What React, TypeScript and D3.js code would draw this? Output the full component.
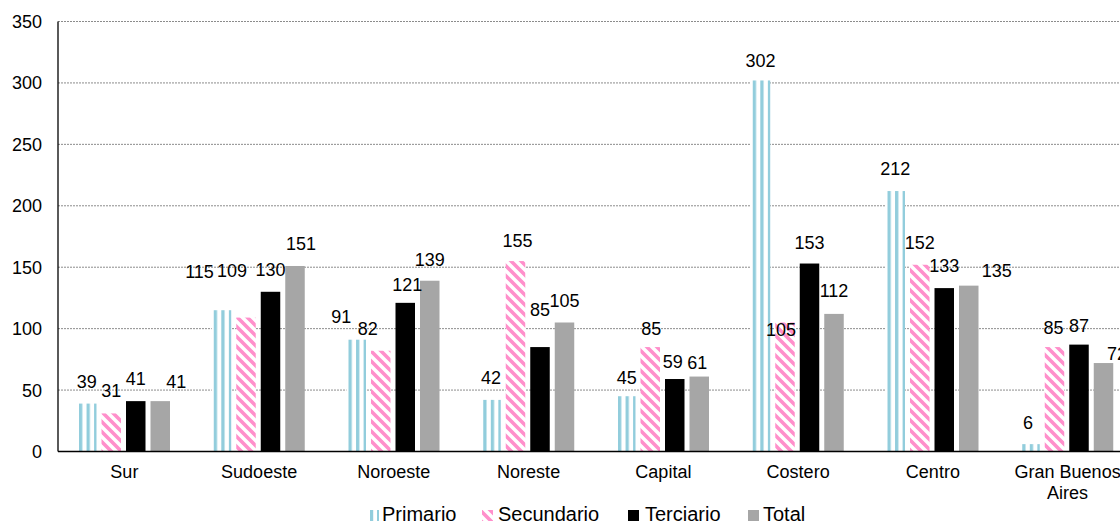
import React from "react";
import * as d3 from "d3";

const categories = ["Sur", "Sudoeste", "Noroeste", "Noreste", "Capital", "Costero", "Centro", "Gran Buenos Aires"];
const seriesNames = ["Primario", "Secundario", "Terciario", "Total"];
const primario = [39, 115, 91, 42, 45, 302, 212, 6];
const secundario = [31, 109, 82, 155, 85, 105, 152, 85];
const terciario = [41, 130, 121, 85, 59, 153, 133, 87];
const total = [41, 151, 139, 105, 61, 112, 135, 72];
const yTicks = [0, 50, 100, 150, 200, 250, 300, 350];

// manual label nudges (layout only)
const labelNudge: [number, number][][] = [
  [[0, 0], [0, 0], [0, 0], [16, 3]],
  [[-22, -16.5], [-14, -25], [0, 0], [6, 0]],
  [[-15, -1], [-13, 0], [2, 4], [0, 1]],
  [[0, 0], [2, 2], [0, -15], [0, 0]],
  [[1, 4], [1, 4], [-2, 5], [-2, 8]],
  [[0, 3], [-4, 29], [0, 1], [0, -1]],
  [[0, 0], [0, 0], [0, 0], [28, 7.5]],
  [[-2, 1], [-1, 3], [0, 3], [13.5, 13]],
];

const W = 1120;
const H = 525;
const FONT = "'Liberation Sans', Arial, sans-serif";
const colors = ["#92CDDC", "#FF8FCB", "#000000", "#A6A6A6"];

export default function App() {
  const seriesValues = [primario, secundario, terciario, total];
  const x0 = d3.scaleBand<string>().domain(categories).range([57, 1135]).padding(0);
  const groupW = 93;
  const x1 = d3.scaleBand<string>().domain(seriesNames).range([0, groupW]).paddingInner(0.204).paddingOuter(0);
  const groupOffset = 20;
  const y = d3.scaleLinear().domain([0, 350]).range([451.5, 21.5]);
  const axisX = 58;
  const bw = x1.bandwidth();

  const legendItems = [
    { name: "Primario", sx: 368, tx: 382 },
    { name: "Secundario", sx: 482, tx: 498 },
    { name: "Terciario", sx: 628, tx: 645 },
    { name: "Total", sx: 748, tx: 763 },
  ];

  const primX = (i: number) => (x0(categories[i]) as number) + groupOffset + (x1("Primario") as number);

  const fillFor = (j: number, i: number) => {
    if (j === 0) return `url(#patPrim${i})`;
    if (j === 1) return "url(#patSec)";
    return colors[j];
  };

  return (
    <svg width={W} height={H} style={{ position: "absolute", left: 0, top: 0, background: "#fff" }} fontFamily={FONT}>
      <defs>
        {categories.map((c, i) => (
          <pattern key={"pp" + i} id={`patPrim${i}`} patternUnits="userSpaceOnUse" x={primX(i) + 2} y={0} width={7.55} height={8}>
            <rect x={0} y={0} width={7.55} height={8} fill="#fff" />
            <rect x={0} y={0} width={3.3} height={8} fill={colors[0]} />
          </pattern>
        ))}
        <pattern id="patPrimLeg" patternUnits="userSpaceOnUse" x={370} y={0} width={7} height={8}>
          <rect x={0} y={0} width={7} height={8} fill="#fff" />
          <rect x={0} y={0} width={3.2} height={8} fill={colors[0]} />
        </pattern>
        <pattern id="patSec" patternUnits="userSpaceOnUse" width={10} height={10}>
          <rect x={0} y={0} width={10} height={10} fill="#fff" />
          <path d="M-2,-2 L12,12 M-2,8 L2,12 M8,-2 L12,2" stroke={colors[1]} strokeWidth={3.6} />
        </pattern>
      </defs>

      {/* gridlines */}
      {yTicks.filter((t) => t > 0).map((t) => (
        <line key={"g" + t} x1={axisX} x2={W} y1={y(t)} y2={y(t)} stroke="#8c8c8c" strokeWidth={1} strokeDasharray="2,1" />
      ))}

      {/* y tick labels */}
      {yTicks.map((t) => (
        <text key={"yt" + t} x={42} y={y(t)} dy="0.36em" textAnchor="end" fontSize={18} fill="#000">
          {t}
        </text>
      ))}

      {/* bars */}
      {categories.map((c, i) => (
        <g key={c}>
          {seriesNames.map((s, j) => {
            const v = seriesValues[j][i];
            const bx = (x0(c) as number) + groupOffset + (x1(s) as number);
            return <rect key={s} x={bx} y={y(v)} width={bw} height={y(0) - y(v)} fill={fillFor(j, i)} />;
          })}
        </g>
      ))}

      {/* axes */}
      <line x1={axisX} x2={axisX} y1={y(350)} y2={y(0)} stroke="#000" strokeWidth={1.3} />
      <line x1={axisX} x2={W} y1={y(0)} y2={y(0)} stroke="#000" strokeWidth={1.3} />

      {/* data labels */}
      {categories.map((c, i) =>
        seriesNames.map((s, j) => {
          const v = seriesValues[j][i];
          const cx = (x0(c) as number) + groupOffset + (x1(s) as number) + bw / 2;
          const [dx, dy] = labelNudge[i][j];
          return (
            <text key={c + s} x={cx + dx} y={y(v) - 16 + dy} textAnchor="middle" fontSize={18} fill="#000">
              {v}
            </text>
          );
        })
      )}

      {/* category labels */}
      {categories.map((c) => {
        const cx = (x0(c) as number) + x0.bandwidth() / 2;
        const lines = c === "Gran Buenos Aires" ? ["Gran Buenos", "Aires"] : [c];
        return (
          <text key={"c" + c} x={cx} y={478} textAnchor="middle" fontSize={18} fill="#000">
            {lines.map((l, k) => (
              <tspan key={k} x={cx} dy={k === 0 ? 0 : 21}>
                {l}
              </tspan>
            ))}
          </text>
        );
      })}

      {/* legend */}
      {legendItems.map((it, j) => (
        <g key={"lg" + it.name}>
          <rect x={it.sx} y={510} width={11} height={11} fill={j === 0 ? "url(#patPrimLeg)" : j === 1 ? "url(#patSec)" : colors[j]} />
          <text x={it.tx} y={521} fontSize={20} fill="#000">
            {it.name}
          </text>
        </g>
      ))}
    </svg>
  );
}
